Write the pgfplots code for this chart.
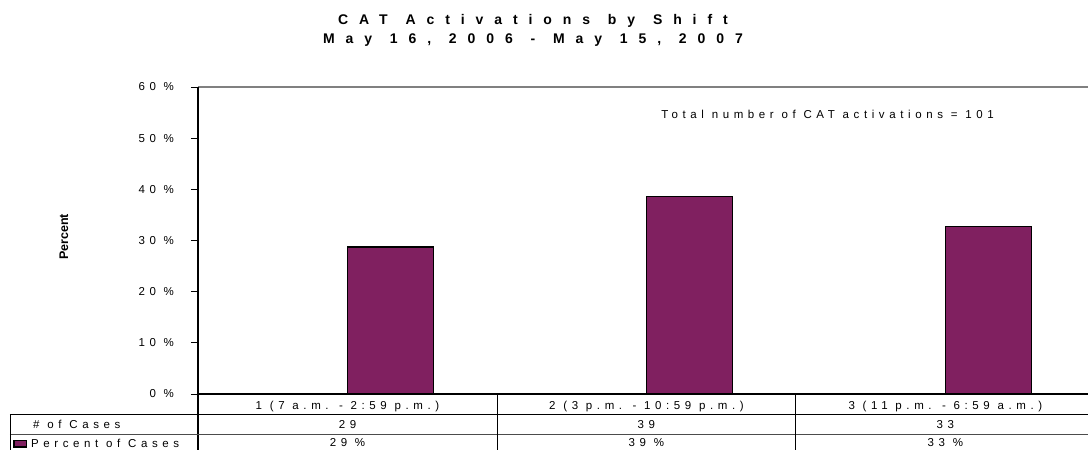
\documentclass[border=0pt]{standalone}
\usepackage{fontspec}
\setmainfont{Liberation Sans}
\newfontfamily\smallspaced{Liberation Sans}[LetterSpace=40]
\newfontfamily\titlespaced{Liberation Sans}[LetterSpace=78, WordSpace=1.2]
\usepackage{pgfplots}
\usepackage{pgfplotstable}
\pgfplotsset{compat=1.18}

\definecolor{barplum}{RGB}{128,32,96}
\definecolor{bordergray}{RGB}{128,128,128}

\newcommand\smallfont{\smallspaced\fontsize{11.5bp}{13bp}\selectfont}

% shift, number of activations, percent of all 101 activations
\pgfplotstableread{
x cases pct
0 29 28.71
1 39 38.61
2 33 32.67
}\shifttable

\begin{document}
\begin{tikzpicture}[x=1bp,y=1bp]
\useasboundingbox (-198,-56) rectangle (890,394);
\begin{axis}[
  at={(0,0)}, anchor=south west,
  scale only axis, width=890bp, height=307bp,
  xmin=-0.5, xmax=2.477, ymin=0, ymax=60,
  axis line style={draw=none},
  clip=false,
  ytick={0,10,...,60}, ytick pos=left,
  tick align=outside, major tick length=7bp,
  ytick style={black, line width=0.8bp},
  yticklabel={\pgfmathprintnumber[assume math mode=true]{\tick} \%},
  yticklabel style={font=\smallfont, text=black, anchor=east, xshift=-13.5bp},
  xtick={0,1,2},
  xticklabels={1 (7 a.m. - 2:59 p.m.), 2 (3 p.m. - 10:59 p.m.), 3 (11 p.m. - 6:59 a.m.)},
  xtick style={draw=none},
  xticklabel style={font=\smallfont, text=black, anchor=center, yshift=-5.5bp},
]
% bars: percent of cases
\addplot[ybar, bar width=86bp, bar shift=43bp, fill=barplum, draw=black, line width=1.2bp]
  table[x=x, y=pct] {\shifttable};

% data table row: number of cases
\addplot[draw=none, mark=none, forget plot,
  point meta=\thisrow{cases},
  nodes near coords={\pgfmathprintnumber[assume math mode=true]{\pgfplotspointmeta}},
  every node near coord/.append style={anchor=center, yshift=-30.5bp, font=\smallfont, text=black}]
  table[x=x, y expr=0] {\shifttable};

% data table row: percent of cases
\addplot[draw=none, mark=none, forget plot,
  point meta=\thisrow{pct},
  nodes near coords={\pgfmathprintnumber[fixed, precision=0, assume math mode=true]{\pgfplotspointmeta} \%},
  every node near coord/.append style={anchor=center, yshift=-49bp, font=\smallfont, text=black}]
  table[x=x, y expr=0] {\shifttable};

% frame of the plot area
\draw[bordergray, line width=1.2bp] (rel axis cs:0,1) -- (rel axis cs:1,1);
\draw[black, line width=1.5bp] (rel axis cs:0,0) -- (rel axis cs:1,0);
\draw[black, line width=1.2bp] (rel axis cs:0,1) -- ([yshift=-60bp]rel axis cs:0,0);

% grid of the data table
\draw[black, line width=0.9bp] ([xshift=-188bp,yshift=-20.5bp]rel axis cs:0,0) -- ([yshift=-20.5bp]rel axis cs:1,0);
\draw[black!70, line width=0.9bp] ([xshift=-188bp,yshift=-40bp]rel axis cs:0,0) -- ([yshift=-40bp]rel axis cs:1,0);
\draw[black, line width=0.9bp] ([xshift=-188bp,yshift=-20.5bp]rel axis cs:0,0) -- ([xshift=-188bp,yshift=-60bp]rel axis cs:0,0);
\draw[black, line width=0.9bp] (axis cs:0.5,0) -- ([yshift=-60bp]axis cs:0.5,0);
\draw[black, line width=0.9bp] (axis cs:1.5,0) -- ([yshift=-60bp]axis cs:1.5,0);

% row headers
\node[font=\smallfont, anchor=west, inner sep=0pt] at ([xshift=-165bp,yshift=-30.5bp]rel axis cs:0,0) {\# of Cases};
\draw[black, line width=1.2bp, fill=barplum] ([xshift=-184bp,yshift=-46.5bp]rel axis cs:0,0) rectangle ([xshift=-171.5bp,yshift=-53bp]rel axis cs:0,0);
\node[font=\smallfont, anchor=west, inner sep=0pt] at ([xshift=-167bp,yshift=-49bp]rel axis cs:0,0) {Percent of Cases};

% note and axis title
\node[font=\smallfont, anchor=center] at ([xshift=629.5bp,yshift=-27bp]rel axis cs:0,1) {Total number of CAT activations = 101};
\node[font=\bfseries\fontsize{12.5bp}{14bp}\selectfont, rotate=90, anchor=center] at ([xshift=-134bp,yshift=157bp]rel axis cs:0,0) {Percent};

% chart title
\node[font=\titlespaced\bfseries\fontsize{14bp}{19.5bp}\selectfont, align=center, anchor=center] at ([xshift=335bp,yshift=56.5bp]rel axis cs:0,1) {CAT Activations by Shift\\May 16, 2006 - May 15, 2007};
\end{axis}
\end{tikzpicture}
\end{document}
